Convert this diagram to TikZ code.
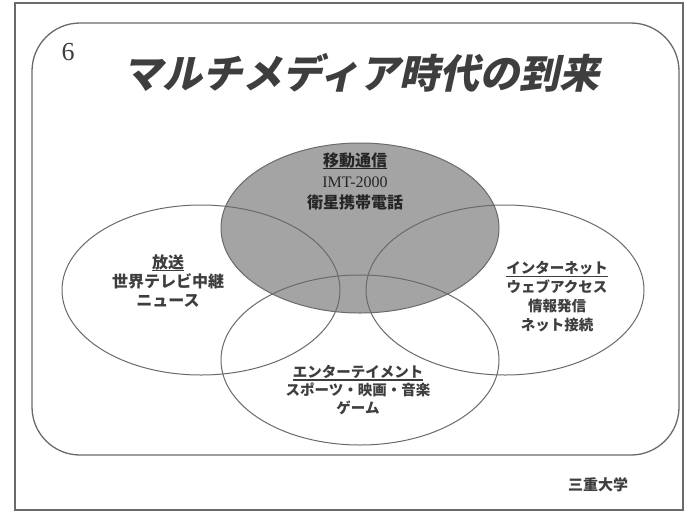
\documentclass[tikz,border=0pt]{standalone}
\usepackage{fontspec}
\usetikzlibrary{shapes.geometric}
\newfontfamily\jp{Noto Sans CJK JP}
\newfontfamily\titlefont[FakeSlant=0.22]{Noto Sans CJK JP}
\newfontfamily\serifnum{Liberation Serif}
\definecolor{inkc}{HTML}{3E3E3E}
\definecolor{linec}{HTML}{6A6A6A}
\definecolor{shadec}{HTML}{A4A4A4}
\newcommand\myul[1]{\setbox0\hbox{#1}\rlap{\raisebox{-3pt}{\rule{\wd0}{1.1pt}}}\box0}
\tikzset{
  frame/.style={draw=linec, line width=2pt},
  panel/.style={draw=linec, line width=1.3pt, rounded corners=48pt},
  venn/.style={ellipse, draw=linec, line width=1pt, minimum width=278pt, minimum height=170pt, inner sep=0pt},
  label/.style={align=center, text=inkc, font=\jp\bfseries},
}
\begin{document}
\begin{tikzpicture}[x=1pt,y=-1pt]
\useasboundingbox (0,0) rectangle (686,515);
\fill[white] (0,0) rectangle (686,515);
\draw[frame] (15,3) rectangle (683,510);
\draw[panel] (32,23) rectangle (679,455);
\node[text=inkc, font=\serifnum\fontsize{26}{28}\selectfont] (num) at (68,52) {6};
\node[text=inkc, font=\titlefont\bfseries\fontsize{40}{44}\selectfont] (title) at (361,73) {マルチメディア時代の到来};
% ellipses
\node[venn, fill=shadec] (mobile) at (360,228) {};
\node[venn] (broad) at (201,290) {};
\node[venn] (inet) at (505,290) {};
\node[venn] (ent) at (360,360) {};
% texts
\node[label, text=black!85, font=\jp\bfseries\fontsize{16}{21}\selectfont] (tmob) at (355,181)
  {\myul{移動通信}\\{\serifnum\mdseries IMT-2000}\\衛星携帯電話};
\node[label, font=\jp\bfseries\fontsize{16}{19}\selectfont] (tbro) at (168,281)
  {\myul{放送}\\世界テレビ中継\\ニュース};
\node[label, font=\jp\bfseries\fontsize{14.5}{19}\selectfont] (tnet) at (557,297)
  {\myul{インターネット}\\ウェブアクセス\\情報発信\\ネット接続};
\node[label, font=\jp\bfseries\fontsize{14.5}{18}\selectfont] (tent) at (358,390)
  {\myul{エンターテイメント}\\スポーツ・映画・音楽\\ゲーム};
\node[label, font=\jp\bfseries\fontsize{15}{18}\selectfont] (uni) at (598,485) {三重大学};
\end{tikzpicture}
\end{document}
